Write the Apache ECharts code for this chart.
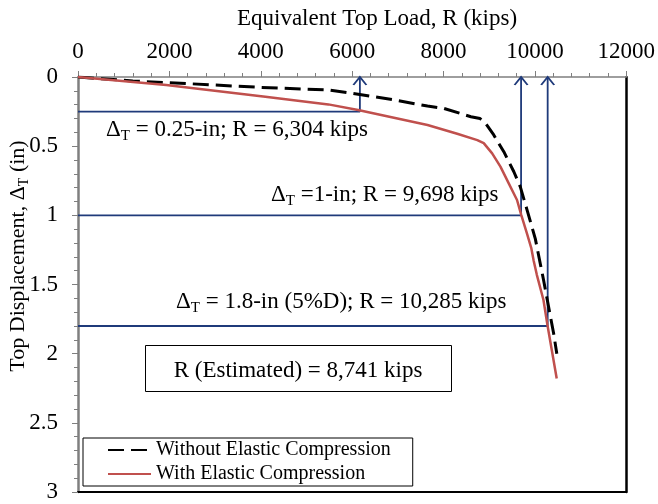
<!DOCTYPE html>
<html>
<head>
<meta charset="utf-8">
<script src="https://cdn.jsdelivr.net/npm/echarts@6/dist/echarts.min.js"></script>
<style>
html,body{margin:0;padding:0;background:#fff;}
#chart{width:658px;height:504px;}
</style>
</head>
<body>
<div id="chart"></div>
<script>
// ---- data ----
var xTicks = [0, 2000, 4000, 6000, 8000, 10000, 12000];
var yTicks = [0, 0.5, 1, 1.5, 2, 2.5, 3];

var withoutX = [0, 1200, 2000, 4000, 5480, 6000, 6930, 7650, 8000, 8600, 8800, 8920, 9100, 9320, 9540, 9680, 9830, 10010, 10190, 10300, 10410, 10480];
var withoutY = [0, 0.029, 0.041, 0.075, 0.094, 0.118, 0.166, 0.21, 0.226, 0.287, 0.300, 0.335, 0.419, 0.54, 0.685, 0.793, 0.962, 1.17, 1.468, 1.661, 1.853, 2.0];

var withX = [0, 1930, 4100, 5480, 6130, 7650, 8300, 8740, 8880, 9065, 9246, 9428, 9609, 9703, 9826, 9920, 9975, 10043, 10188, 10275, 10370, 10478];
var withY = [0, 0.058, 0.142, 0.198, 0.239, 0.347, 0.41, 0.456, 0.478, 0.552, 0.648, 0.769, 0.889, 0.998, 1.13, 1.235, 1.33, 1.43, 1.612, 1.793, 1.974, 2.18];

var markDisp = [0.25, 1.0, 1.8];
var markLoad = [6170, 9698, 10280];

var seriesNames = ['Without Elastic Compression', 'With Elastic Compression'];

// ---- build ----
function zip(a, b) { return a.map(function (v, i) { return [v, b[i]]; }); }

var FONT = 'Liberation Serif, Times New Roman, serif';
var BLUE = '#1F3A7A';
var RED = '#C0504D';
var arrowPath = 'path://M0,8L6.5,0L13,8';

var markSeries = markDisp.map(function (d, i) {
  return {
    type: 'line',
    xAxisIndex: 0, yAxisIndex: 0,
    data: [
      { value: [0, d], symbol: 'none' },
      { value: [markLoad[i], d], symbol: 'none' },
      { value: [markLoad[i], 0], symbol: arrowPath, symbolSize: [13, 8], symbolOffset: [0, 4] }
    ],
    lineStyle: { color: BLUE, width: 1.8 },
    itemStyle: { color: 'transparent', borderColor: BLUE, borderWidth: 1.6 },
    showSymbol: true,
    clip: false,
    silent: true,
    animation: false,
    z: 2
  };
});

var labelStyle = { fontFamily: FONT, fontSize: 23, color: '#000' };

var option = {
  animation: false,
  backgroundColor: '#fff',
  grid: { left: 78, top: 77, width: 552, height: 415, containLabel: false },
  xAxis: [
    {
      type: 'value', position: 'top', min: 0, max: 12000, interval: 2000,
      axisLine: { show: true, onZero: false, lineStyle: { color: '#7f7f7f', width: 1.5 } },
      axisTick: { show: true, inside: false, length: 6, lineStyle: { color: '#7f7f7f', width: 1 } },
      minorTick: { show: true, splitNumber: 5, length: 4, lineStyle: { color: '#7f7f7f', width: 1 } },
      splitLine: { show: false },
      axisLabel: Object.assign({ margin: 14, formatter: function (v) { return String(v); } }, labelStyle)
    },
    {
      type: 'value', position: 'bottom', min: 0, max: 12000, interval: 2000,
      axisLine: { show: true, onZero: false, lineStyle: { color: '#000', width: 2 } },
      axisTick: { show: false }, axisLabel: { show: false }, splitLine: { show: false }
    }
  ],
  yAxis: [
    {
      type: 'value', position: 'left', inverse: true, min: 0, max: 3, interval: 0.5,
      axisLine: { show: true, onZero: false, lineStyle: { color: '#7f7f7f', width: 2.5 } },
      axisTick: { show: true, inside: false, length: 6, lineStyle: { color: '#7f7f7f', width: 1 } },
      minorTick: { show: true, splitNumber: 5, length: 4, lineStyle: { color: '#7f7f7f', width: 1 } },
      splitLine: { show: false },
      axisLabel: Object.assign({ margin: 20 }, labelStyle)
    },
    {
      type: 'value', position: 'right', inverse: true, min: 0, max: 3, interval: 0.5,
      axisLine: { show: true, onZero: false, lineStyle: { color: '#000', width: 2.5 } },
      axisTick: { show: false }, axisLabel: { show: false }, splitLine: { show: false }
    }
  ],
  legend: {
    left: 83, top: 438,
    orient: 'vertical',
    data: seriesNames,
    itemWidth: 43, itemHeight: 14, itemGap: 4,
    padding: [2, 22, 2, 24],
    borderColor: '#000', borderWidth: 1,
    backgroundColor: '#fff',
    itemStyle: { opacity: 0 },
    textStyle: { fontFamily: FONT, fontSize: 20, color: '#000', padding: [0, 0, 0, 0] },
    selectedMode: false
  },
  series: markSeries.concat([
    {
      name: seriesNames[0], type: 'line', xAxisIndex: 0, yAxisIndex: 0,
      data: zip(withoutX, withoutY), symbol: 'none', smooth: false,
      lineStyle: { color: '#000', width: 3, type: [16, 7] },
      itemStyle: { color: '#000' }, z: 3
    },
    {
      name: seriesNames[1], type: 'line', xAxisIndex: 0, yAxisIndex: 0,
      data: zip(withX, withY), symbol: 'none', smooth: false,
      lineStyle: { color: RED, width: 2.5 },
      itemStyle: { color: RED }, z: 4
    }
  ]),
  graphic: [
    {
      type: 'text', x: 377, y: 19,
      style: { text: 'Equivalent Top Load, R (kips)', font: '23px ' + FONT, fill: '#000', align: 'center', verticalAlign: 'middle' }
    },
    {
      type: 'text', x: 18, y: 256, rotation: Math.PI / 2,
      style: {
        text: 'Top Displacement, Δ{s|T} (in)', font: '22px ' + FONT, fill: '#000', align: 'center', verticalAlign: 'middle',
        rich: { s: { fontFamily: FONT, fontSize: 14, padding: [12, 0, 0, 0] } }
      }
    },
    {
      type: 'text', x: 106, y: 130,
      style: {
        text: 'Δ{s|T} = 0.25-in; R = 6,304 kips', font: '23px ' + FONT, fill: '#000', align: 'left', verticalAlign: 'middle',
        rich: { s: { fontFamily: FONT, fontSize: 15, padding: [12, 0, 0, 0] } }
      }
    },
    {
      type: 'text', x: 271, y: 195,
      style: {
        text: 'Δ{s|T} =1-in; R = 9,698 kips', font: '23px ' + FONT, fill: '#000', align: 'left', verticalAlign: 'middle',
        rich: { s: { fontFamily: FONT, fontSize: 15, padding: [12, 0, 0, 0] } }
      }
    },
    {
      type: 'text', x: 176, y: 302,
      style: {
        text: 'Δ{s|T} = 1.8-in (5%D); R = 10,285 kips', font: '23px ' + FONT, fill: '#000', align: 'left', verticalAlign: 'middle',
        rich: { s: { fontFamily: FONT, fontSize: 15, padding: [12, 0, 0, 0] } }
      }
    },
    {
      type: 'rect', shape: { x: 145.5, y: 345.5, width: 306, height: 46 },
      style: { fill: '#fff', stroke: '#000', lineWidth: 1 }, z: 10
    },
    {
      type: 'text', x: 298, y: 371, z: 11,
      style: { text: 'R (Estimated) = 8,741 kips', font: '23px ' + FONT, fill: '#000', align: 'center', verticalAlign: 'middle' }
    }
  ]
};

var chart = echarts.init(document.getElementById('chart'), null, { renderer: 'canvas' });
chart.setOption(option);
</script>
</body>
</html>
